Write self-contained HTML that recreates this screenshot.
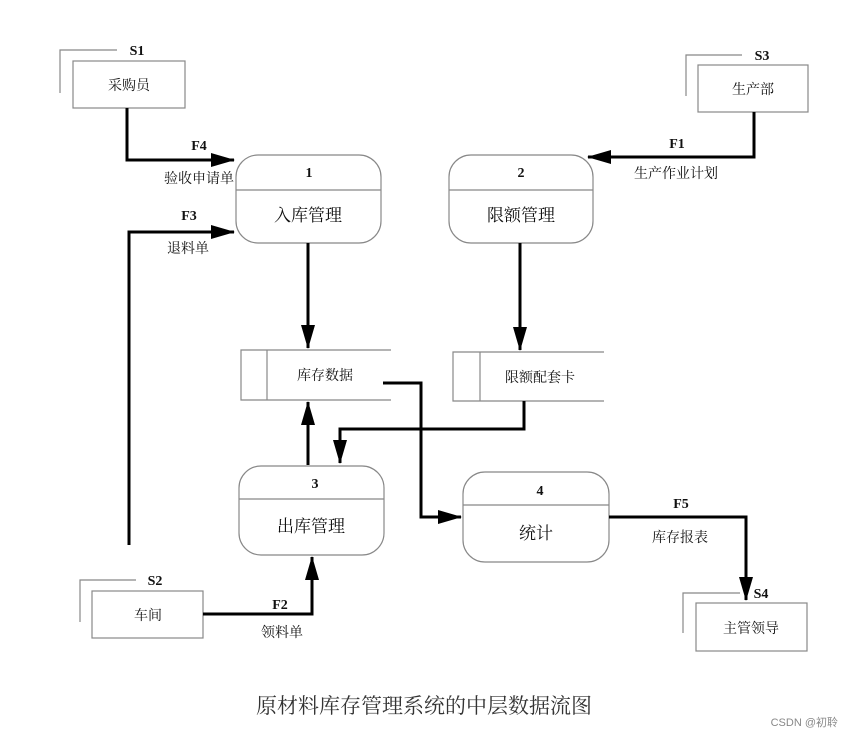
<!DOCTYPE html>
<html><head><meta charset="utf-8"><style>
html,body{margin:0;padding:0;background:#fff;}
svg{display:block;}
text{font-family:"Liberation Serif","Noto Serif CJK SC","Noto Sans CJK SC",serif;fill:#111;}
.b{font-weight:bold;font-size:14px;}
.c{font-size:14px;}
.p{font-size:17px;}
</style></head><body>
<svg width="849" height="736" viewBox="0 0 849 736" xmlns="http://www.w3.org/2000/svg">
<defs>
<marker id="a" markerWidth="10" markerHeight="10" refX="9" refY="5" orient="auto" markerUnits="userSpaceOnUse">
<path d="M0,0 L10,5 L0,10 z" fill="#000"/></marker>
<marker id="a2" markerWidth="24" markerHeight="14" refX="23" refY="7" orient="auto" markerUnits="userSpaceOnUse">
<path d="M0,0 L24,7 L0,14 z" fill="#000"/></marker>
</defs>
<g fill="none" stroke="#888" stroke-width="1.2">
<!-- S1 -->
<polyline points="60,93 60,50 117,50"/><rect x="73" y="61" width="112" height="47"/>
<!-- S3 -->
<polyline points="686,96 686,55 742,55"/><rect x="698" y="65" width="110" height="47"/>
<!-- S2 -->
<polyline points="80,622 80,580 136,580"/><rect x="92" y="591" width="111" height="47"/>
<!-- S4 -->
<polyline points="683,633 683,593 740,593"/><rect x="696" y="603" width="111" height="48"/>
<!-- processes -->
<rect x="236" y="155" width="145" height="88" rx="22"/><line x1="236" y1="190" x2="381" y2="190"/>
<rect x="449" y="155" width="144" height="88" rx="22"/><line x1="449" y1="190" x2="593" y2="190"/>
<rect x="239" y="466" width="145" height="89" rx="22"/><line x1="239" y1="499" x2="384" y2="499"/>
<rect x="463" y="472" width="146" height="90" rx="22"/><line x1="463" y1="505" x2="609" y2="505"/>
<!-- stores -->
<polyline points="391,350 241,350 241,400 391,400"/><line x1="267" y1="350" x2="267" y2="400"/>
<polyline points="604,352 453,352 453,401 604,401"/><line x1="480" y1="352" x2="480" y2="401"/>
</g>
<g fill="none" stroke="#000" stroke-width="3">
<polyline points="127,108 127,160 234,160" marker-end="url(#a2)"/>
<polyline points="129,545 129,232 234,232" marker-end="url(#a2)"/>
<polyline points="754,112 754,157 588,157" marker-end="url(#a2)"/>
<polyline points="308,243 308,348" marker-end="url(#a2)"/>
<polyline points="520,243 520,350" marker-end="url(#a2)"/>
<polyline points="308,465 308,402" marker-end="url(#a2)"/>
<polyline points="383,383 421,383 421,517 461,517" marker-end="url(#a2)"/>
<polyline points="524,401 524,429 340,429 340,463" marker-end="url(#a2)"/>
<polyline points="609,517 746,517 746,600" marker-end="url(#a2)"/>
<polyline points="203,614 312,614 312,557" marker-end="url(#a2)"/>
</g>
<g text-anchor="middle">
<text x="137" y="55" class="b">S1</text>
<text x="129" y="90" class="c">采购员</text>
<text x="762" y="60" class="b">S3</text>
<text x="753" y="94" class="c">生产部</text>
<text x="155" y="585" class="b">S2</text>
<text x="148" y="620" class="c">车间</text>
<text x="761" y="598" class="b">S4</text>
<text x="751" y="633" class="c">主管领导</text>
<text x="309" y="177" class="b">1</text>
<text x="308" y="221" class="p">入库管理</text>
<text x="521" y="177" class="b">2</text>
<text x="521" y="221" class="p">限额管理</text>
<text x="315" y="488" class="b">3</text>
<text x="311" y="532" class="p">出库管理</text>
<text x="540" y="495" class="b">4</text>
<text x="536" y="539" class="p">统计</text>
<text x="325" y="380" class="c">库存数据</text>
<text x="540" y="382" class="c">限额配套卡</text>
<text x="199" y="150" class="b">F4</text>
<text x="199" y="183" class="c">验收申请单</text>
<text x="189" y="220" class="b">F3</text>
<text x="188" y="253" class="c">退料单</text>
<text x="677" y="148" class="b">F1</text>
<text x="676" y="178" class="c">生产作业计划</text>
<text x="681" y="508" class="b">F5</text>
<text x="680" y="542" class="c">库存报表</text>
<text x="280" y="609" class="b">F2</text>
<text x="282" y="637" class="c">领料单</text>
<text x="424" y="713" style="font-size:21px;fill:#333">原材料库存管理系统的中层数据流图</text>
</g>
<text x="838" y="726" text-anchor="end" style="font-family:'Liberation Sans','Noto Sans CJK SC',sans-serif;font-size:11px;fill:#888">CSDN @初聆</text>
</svg>
</body></html>
